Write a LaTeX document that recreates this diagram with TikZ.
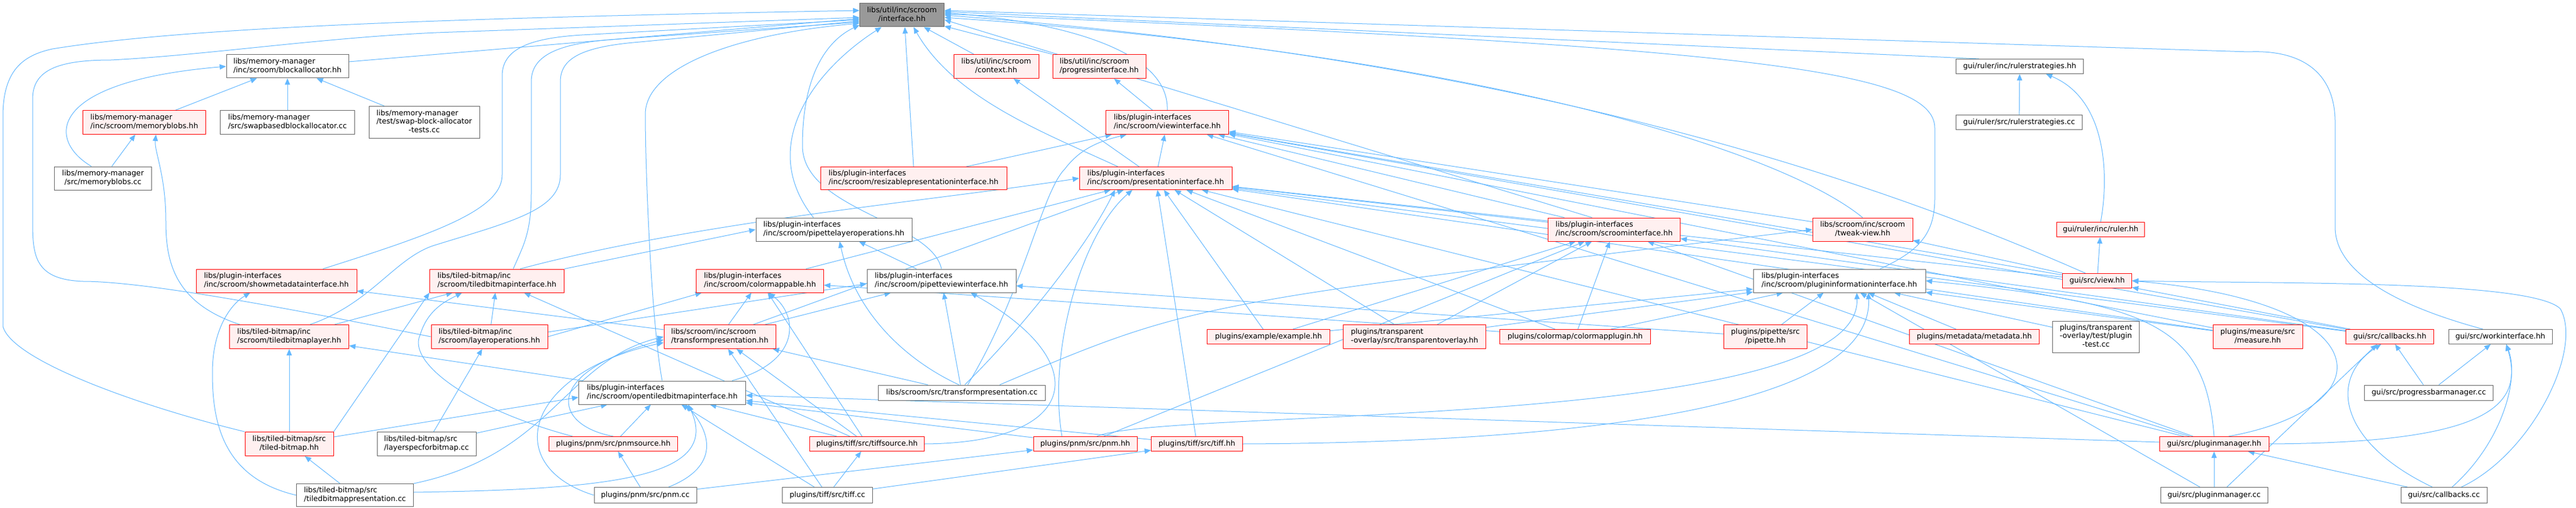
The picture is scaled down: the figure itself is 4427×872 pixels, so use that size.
\documentclass[tikz,border=0pt]{standalone}
\usepackage{fontspec}
\setmainfont{DejaVu Sans}
\usepackage{xcolor}
\usepackage{tikz}
\usetikzlibrary{arrows.meta,backgrounds}

\definecolor{edgeblue}{HTML}{63B8FF}
\definecolor{hotfill}{HTML}{FFF0F0}
\definecolor{greyforty}{HTML}{666666}
\definecolor{greysixty}{HTML}{999999}
\newcommand{\doxfont}{\fontsize{12.7}{14.5}\selectfont}
\newcommand{\twol}[2]{\begin{tabular}{@{}c@{}}\multicolumn{1}{@{}l@{}}{#1}\\#2\end{tabular}}
\newcommand{\threel}[3]{\begin{tabular}{@{}c@{}}\multicolumn{1}{@{}l@{}}{#1}\\\multicolumn{1}{@{}l@{}}{#2}\\#3\end{tabular}}

\begin{document}
\begin{tikzpicture}[
  x = 1pt, y = -1pt,
  every node/.style = {draw, rectangle, inner sep = 0pt, line width = 1pt, font = \doxfont},
  wh/.style 2 args = {minimum width = #1pt, minimum height = #2pt},
  redbox/.style = {draw = red, fill = hotfill},
  greybox/.style = {draw = greyforty, fill = white},
  rootbox/.style = {draw = greyforty, fill = greysixty},
  dep/.style = {draw = edgeblue, line width = 1pt, -{Triangle[length = 11pt, width = 9pt]}}
  ]
  \useasboundingbox (0,0) rectangle (4427,872);

  \node[rootbox, wh={145}{40}] (I) at (1550,26) {\twol{libs/util/inc/scroom}{/interface.hh}};
  \node[greybox, wh={210}{40}] (ba) at (494,114) {\twol{libs/memory-manager}{/inc/scroom/blockallocator.hh}};
  \node[redbox, wh={211}{41}] (mbh) at (248,210) {\twol{libs/memory-manager}{/inc/scroom/memoryblobs.hh}};
  \node[greybox, wh={231}{41}] (sba) at (494,210) {\twol{libs/memory-manager}{/src/swapbasedblockallocator.cc}};
  \node[greybox, wh={190}{55}] (sbt) at (729,210) {\threel{libs/memory-manager}{/test/swap-block-allocator}{-tests.cc}};
  \node[greybox, wh={167}{40}] (mbc) at (177,306) {\twol{libs/memory-manager}{/src/memoryblobs.cc}};
  \node[redbox, wh={276}{40}] (smd) at (475,482) {\twol{libs/plugin-interfaces}{/inc/scroom/showmetadatainterface.hh}};
  \node[redbox, wh={205}{41}] (tbl) at (497,578) {\twol{libs/tiled-bitmap/inc}{/scroom/tiledbitmaplayer.hh}};
  \node[redbox, wh={152}{41}] (tbh) at (497,762) {\twol{libs/tiled-bitmap/src}{/tiled-bitmap.hh}};
  \node[greybox, wh={201}{39}] (tbp) at (610,850) {\twol{libs/tiled-bitmap/src}{/tiledbitmappresentation.cc}};
  \node[greybox, wh={170}{41}] (lsb) at (733,762) {\twol{libs/tiled-bitmap/src}{/layerspecforbitmap.cc}};
  \node[redbox, wh={231}{40}] (tbi) at (854,482) {\twol{libs/tiled-bitmap/inc}{/scroom/tiledbitmapinterface.hh}};
  \node[redbox, wh={200}{41}] (lop) at (841,578) {\twol{libs/tiled-bitmap/inc}{/scroom/layeroperations.hh}};
  \node[redbox, wh={219}{40}] (cmp) at (1306,482) {\twol{libs/plugin-interfaces}{/inc/scroom/colormappable.hh}};
  \node[redbox, wh={192}{41}] (tph) at (1237,578) {\twol{libs/scroom/inc/scroom}{/transformpresentation.hh}};
  \node[greybox, wh={287}{40}] (otb) at (1138,674) {\twol{libs/plugin-interfaces}{/inc/scroom/opentiledbitmapinterface.hh}};
  \node[redbox, wh={221}{25}] (pns) at (1054,762) {plugins/pnm/src/pnmsource.hh};
  \node[greybox, wh={176}{27}] (pnc) at (1109,850) {plugins/pnm/src/pnm.cc};
  \node[greybox, wh={155}{27}] (tfc) at (1422,850) {plugins/tiff/src/tiff.cc};
  \node[greybox, wh={268}{40}] (plo) at (1433,394) {\twol{libs/plugin-interfaces}{/inc/scroom/pipettelayeroperations.hh}};
  \node[redbox, wh={197}{25}] (tfs) at (1490,762) {plugins/tiff/src/tiffsource.hh};
  \node[redbox, wh={320}{39}] (rpi) at (1570,306) {\twol{libs/plugin-interfaces}{/inc/scroom/resizablepresentationinterface.hh}};
  \node[redbox, wh={146}{41}] (ctx) at (1712,114) {\twol{libs/util/inc/scroom}{/context.hh}};
  \node[redbox, wh={160}{41}] (pgi) at (1889,114) {\twol{libs/util/inc/scroom}{/progressinterface.hh}};
  \node[redbox, wh={211}{41}] (vwi) at (2006,210) {\twol{libs/plugin-interfaces}{/inc/scroom/viewinterface.hh}};
  \node[redbox, wh={262}{39}] (pri) at (1986,306) {\twol{libs/plugin-interfaces}{/inc/scroom/presentationinterface.hh}};
  \node[greybox, wh={256}{40}] (pvi) at (1618,482) {\twol{libs/plugin-interfaces}{/inc/scroom/pipetteviewinterface.hh}};
  \node[greybox, wh={287}{26}] (tpc) at (1653,674) {libs/scroom/src/transformpresentation.cc};
  \node[redbox, wh={178}{25}] (pnh) at (1865,762) {plugins/pnm/src/pnm.hh};
  \node[redbox, wh={157}{25}] (tfh) at (2057,762) {plugins/tiff/src/tiff.hh};
  \node[redbox, wh={211}{25}] (exh) at (2180,578) {plugins/example/example.hh};
  \node[redbox, wh={245}{41}] (tov) at (2431,578) {\twol{plugins/transparent}{-overlay/src/transparentoverlay.hh}};
  \node[redbox, wh={259}{25}] (cmpl) at (2707,578) {plugins/colormap/colormapplugin.hh};
  \node[redbox, wh={227}{40}] (sci) at (2774,394) {\twol{libs/plugin-interfaces}{/inc/scroom/scroominterface.hh}};
  \node[redbox, wh={172}{40}] (twv) at (3201,394) {\twol{libs/scroom/inc/scroom}{/tweak-view.hh}};
  \node[greybox, wh={219}{25}] (rsh) at (3471,114) {gui/ruler/inc/rulerstrategies.hh};
  \node[greybox, wh={217}{25}] (rsc) at (3470,210) {gui/ruler/src/rulerstrategies.cc};
  \node[greybox, wh={296}{40}] (pii) at (3161,482) {\twol{libs/plugin-interfaces}{/inc/scroom/plugininformationinterface.hh}};
  \node[redbox, wh={143}{41}] (pip) at (3034,578) {\twol{plugins/pipette/src}{/pipette.hh}};
  \node[redbox, wh={223}{25}] (mdh) at (3393,578) {plugins/metadata/metadata.hh};
  \node[greybox, wh={149}{54}] (tot) at (3602,578) {\threel{plugins/transparent}{-overlay/test/plugin}{-test.cc}};
  \node[redbox, wh={151}{25}] (rlh) at (3610,394) {gui/ruler/inc/ruler.hh};
  \node[redbox, wh={119}{25}] (vwh) at (3604,482) {gui/src/view.hh};
  \node[redbox, wh={154}{41}] (msr) at (3880,578) {\twol{plugins/measure/src}{/measure.hh}};
  \node[redbox, wh={151}{25}] (cbh) at (4107,578) {gui/src/callbacks.hh};
  \node[greybox, wh={178}{25}] (wki) at (4297,578) {gui/src/workinterface.hh};
  \node[greybox, wh={221}{26}] (pbm) at (4174,674) {gui/src/progressbarmanager.cc};
  \node[redbox, wh={188}{25}] (pmh) at (3805,762) {gui/src/pluginmanager.hh};
  \node[greybox, wh={184}{27}] (pmc) at (3805,850) {gui/src/pluginmanager.cc};
  \node[greybox, wh={148}{27}] (cbc) at (4200,850) {gui/src/callbacks.cc};

  \begin{scope}[on background layer]
  \fill[white] (0,0) rectangle (4427,872);

  \draw[dep] ([yshift=8pt]ba.east) -- ([yshift=-6pt]I.west);
  \draw[dep] (tbh.north west) .. controls (250,700) and (20,620) .. (5,560) -- (5,200) .. controls (5,120) and (40,95) .. (90,84) .. controls (300,50) and (700,32) .. ([yshift=8pt]I.west);
  \draw[dep] (lop.west) .. controls (500,530) and (250,483) .. (143,483) .. controls (60,480) and (56,440) .. (56,380) -- (56,170) .. controls (56,120) and (100,103) .. (191,103) .. controls (350,95) and (550,65) .. (750,56) -- ([yshift=-4pt]I.west);
  \draw[dep] ([xshift=80pt]smd.north) .. controls (750,400) and (863,360) .. (863,300) -- (863,130) .. controls (863,80) and (920,65) .. (1000,60) -- ([yshift=-8pt]I.west);
  \draw[dep] ([xshift=36pt]tbl.north) .. controls (640,520) and (680,440) .. (750,420) .. controls (880,380) and (963,360) .. (963,300) -- (963,140) .. controls (963,100) and (1000,80) .. (1100,72) -- ([yshift=-10pt]I.west);
  \draw[dep] ([xshift=28pt]tbi.north) .. controls (900,420) and (913,400) .. (913,330) -- (913,140) .. controls (913,95) and (960,75) .. (1050,68) -- ([yshift=-12pt]I.west);
  \draw[dep] (otb.north) .. controls (1120,560) and (1109,300) .. (1109,196) .. controls (1109,120) and (1250,60) .. ([yshift=-14pt]I.west);
  \draw[dep] ([xshift=-35pt]plo.north) .. controls (1300,250) and (1400,120) .. ([xshift=-35pt]I.south);
  \draw[dep] (pvi.north) .. controls (1600,380) and (1379,360) .. (1379,250) .. controls (1379,130) and (1420,70) .. ([yshift=-17pt]I.west);
  \draw[dep] (rpi.north) -- ([xshift=5pt]I.south);
  \draw[dep] (ctx) -- (I);
  \draw[dep] (pgi) -- (I);
  \draw[dep] ([xshift=-65pt]pri.north) .. controls (1800,230) and (1640,170) .. ([xshift=20pt]I.south);
  \draw[dep] (vwi.north) .. controls (2010,80) and (1800,35) .. ([yshift=4pt]I.east);
  \draw[dep] ([xshift=-38pt]sci.north) -- ([yshift=-8pt]I.east);
  \draw[dep] (twv.north) .. controls (3050,250) and (2500,90) .. ([yshift=-4pt]I.east);
  \draw[dep] ([xshift=70pt]pii.north) .. controls (3300,430) and (3325,400) .. (3325,340) -- (3325,220) .. controls (3325,120) and (3000,80) .. ([yshift=2pt]I.east);
  \draw[dep] ([xshift=-70pt]rsh.north) -- ([yshift=6pt]I.east);
  \draw[dep] ([xshift=-30pt]wki.north) .. controls (4100,520) and (4013,460) .. (4013,390) -- (4013,210) .. controls (4013,120) and (3950,85) .. (3864,89) -- ([yshift=8pt]I.east);
  \draw[dep] ([xshift=-20pt]vwh.north) .. controls (3200,300) and (2600,100) .. (I.east);

  \draw[dep] (mbh) -- (ba);
  \draw[dep] (sba) -- (ba);
  \draw[dep] (sbt) -- (ba);
  \draw[dep] ([xshift=-20pt]mbc.north) .. controls (80,240) and (80,140) .. (ba.west);
  \draw[dep] (mbc) -- (mbh);
  \draw[dep] ([xshift=-85pt]tbl.north) .. controls (300,520) and (285,450) .. (285,380) .. controls (285,300) and (265,260) .. ([xshift=20pt]mbh.south);

  \draw[dep] (tbp.west) .. controls (380,820) and (365,720) .. (365,640) .. controls (365,560) and (400,520) .. ([xshift=-45pt]smd.south);
  \draw[dep] (tph) -- (smd);
  \draw[dep] (tbp) -- (tbh);
  \draw[dep] (tbh) -- (tbl);
  \draw[dep] (otb) -- (tbl);
  \draw[dep] (tbl) -- (tbi);
  \draw[dep] (tbh.north east) -- (tbi.south west);
  \draw[dep] (lop) -- (tbi);
  \draw[dep] ([xshift=-70pt]pns.north) .. controls (800,700) and (700,620) .. (722,575) .. controls (735,530) and (770,515) .. ([xshift=-60pt]tbi.south);
  \draw[dep] (tfs) -- (tbi);
  \draw[dep] (lsb) -- (lop);
  \draw[dep] (tbi.north east) -- (plo.west);
  \draw[dep] (lop.east) -- ([xshift=-100pt]cmp.south);
  \draw[dep] ([yshift=8pt]lop.east) -- ([yshift=-5pt]pvi.west);
  \draw[dep] (pvi) -- (plo);
  \draw[dep] ([xshift=-5pt]tpc.north) .. controls (1560,620) and (1470,540) .. ([xshift=10pt]plo.south);

  \draw[dep] (lsb) -- (otb);
  \draw[dep] ([yshift=12pt]tbh.east) -- ([yshift=-8pt]otb.west);
  \draw[dep] (pns) -- (otb);
  \draw[dep] ([xshift=40pt]pnc.north) .. controls (1240,800) and (1220,740) .. ([xshift=40pt]otb.south);
  \draw[dep] (tfc) -- (otb);
  \draw[dep] (tfs) -- (otb);
  \draw[dep] (tfh) -- (otb);
  \draw[dep] (pnh) -- (otb);
  \draw[dep] ([yshift=5pt]tbp.east) .. controls (1050,840) and (1240,820) .. ([xshift=45pt]otb.south);
  \draw[dep] (pmh) -- (otb);

  \draw[dep] (tph) -- (cmp);
  \draw[dep] ([xshift=120pt]otb.north) .. controls (1380,620) and (1370,540) .. ([xshift=15pt]cmp.south);
  \draw[dep] (tfs) -- (cmp);
  \draw[dep] (cmpl) -- (cmp);
  \draw[dep] ([xshift=78pt]tph.north) -- ([xshift=-87pt]pvi.south);

  \draw[dep] (pns.north) .. controls (950,730) and (930,640) .. ([yshift=-5pt]tph.west);
  \draw[dep] (pnc.west) .. controls (860,800) and (900,640) .. ([yshift=-10pt]tph.west);
  \draw[dep] (tbp.north east) .. controls (950,780) and (970,620) .. (tph.west);
  \draw[dep] (tfc) -- (tph);
  \draw[dep] (tfs) -- (tph);
  \draw[dep] (tpc) -- (tph);
  \draw[dep] (pnc) -- (pns);
  \draw[dep] (tfc) -- (tfs);
  \draw[dep] (tfc) -- (tfh);
  \draw[dep] (pnc) -- (pnh);

  \draw[dep] ([xshift=40pt]tbi.north) .. controls (1200,380) and (1600,345) .. (pri.west);
  \draw[dep] (cmp) -- (pri);
  \draw[dep] (tph) -- (pri);
  \draw[dep] ([xshift=5pt]tpc.north) .. controls (1760,560) and (1870,420) .. ([xshift=-70pt]pri.south);
  \draw[dep] ([xshift=-40pt]pnh.north) .. controls (1800,600) and (1860,400) .. ([xshift=-40pt]pri.south);
  \draw[dep] (tfh) -- (pri);
  \draw[dep] (exh) -- (pri);
  \draw[dep] (tov) -- (pri);
  \draw[dep] (cmpl) -- (pri);
  \draw[dep] (sci) -- (pri);
  \draw[dep] (vwh) -- (pri);
  \draw[dep] (msr) -- (pri);
  \draw[dep] (pmh) -- (pri);
  \draw[dep] (cbh) -- (pri);

  \draw[dep] (pri) -- (vwi);
  \draw[dep] (rpi) -- (vwi);
  \draw[dep] ([xshift=10pt]tpc.north) .. controls (1760,500) and (1790,330) .. (1830,290) .. controls (1860,250) and (1900,240) .. ([xshift=-70pt]vwi.south);
  \draw[dep] (sci) -- (vwi);
  \draw[dep] (twv) -- (vwi);
  \draw[dep] (vwh) -- (vwi);
  \draw[dep] (cbh) -- (vwi);
  \draw[dep] (pmh) -- (vwi);
  \draw[dep] (msr) -- (vwi);
  \draw[dep] (pri) -- (ctx);
  \draw[dep] (vwi) -- (pgi);

  \draw[dep] (tpc) -- (pvi);
  \draw[dep] (pip) -- (pvi);
  \draw[dep] (tfs.east) .. controls (1860,760) and (1880,620) .. ([xshift=50pt]pvi.south);

  \draw[dep] (cmpl) -- (sci);
  \draw[dep] (exh) -- (sci);
  \draw[dep] (pnh) -- (sci);
  \draw[dep] (tov) -- (sci);
  \draw[dep] (pmh) -- (sci);
  \draw[dep] (cbh) -- (sci);
  \draw[dep] (vwh) -- (twv);
  \draw[dep] ([xshift=65pt]tpc.north) .. controls (2050,520) .. (twv.west);

  \draw[dep] (pip) -- (pii);
  \draw[dep] (mdh) -- (pii);
  \draw[dep] (tot) -- (pii);
  \draw[dep] (exh) -- (pii);
  \draw[dep] (tov) -- (pii);
  \draw[dep] (cmpl) -- (pii);
  \draw[dep] ([xshift=20pt]pnh.north) .. controls (2000,700) and (3200,740) .. ([xshift=30pt]pii.south);
  \draw[dep] (tfh.east) .. controls (2600,760) and (3220,720) .. ([xshift=50pt]pii.south);
  \draw[dep] (pmh.north) .. controls (3790,560) and (3700,520) .. (pii.east);
  \draw[dep] (msr) -- (pii);
  \draw[dep] (pmc) -- (pii);

  \draw[dep] (rsc) -- (rsh);
  \draw[dep] (rlh.north) .. controls (3625,300) and (3620,170) .. ([xshift=45pt]rsh.south);
  \draw[dep] (vwh) -- (rlh);
  \draw[dep] (cbh) -- (vwh);
  \draw[dep] ([xshift=25pt]pmh.north) .. controls (4100,700) and (4100,520) .. (vwh.east);
  \draw[dep] ([xshift=30pt]cbc.north) .. controls (4350,780) and (4440,600) .. (4400,530) .. controls (4350,480) and (3900,487) .. (vwh.east);
  \draw[dep] ([xshift=22pt]pmc.north) -- ([xshift=-22pt]cbh.south);
  \draw[dep] (pbm) -- (cbh);
  \draw[dep] ([xshift=-20pt]cbc.north) .. controls (4020,760) and (4000,650) .. ([xshift=-15pt]cbh.south);
  \draw[dep] (pbm) -- (wki);
  \draw[dep] (pmh.east) .. controls (4270,760) and (4340,700) .. ([xshift=10pt]wki.south);
  \draw[dep] ([xshift=14pt]cbc.north) .. controls (4300,760) and (4330,650) .. ([xshift=10pt]wki.south);
  \draw[dep] (cbc) -- (pmh);
  \draw[dep] (pmc) -- (pmh);
  \end{scope}
\end{tikzpicture}
\end{document}
